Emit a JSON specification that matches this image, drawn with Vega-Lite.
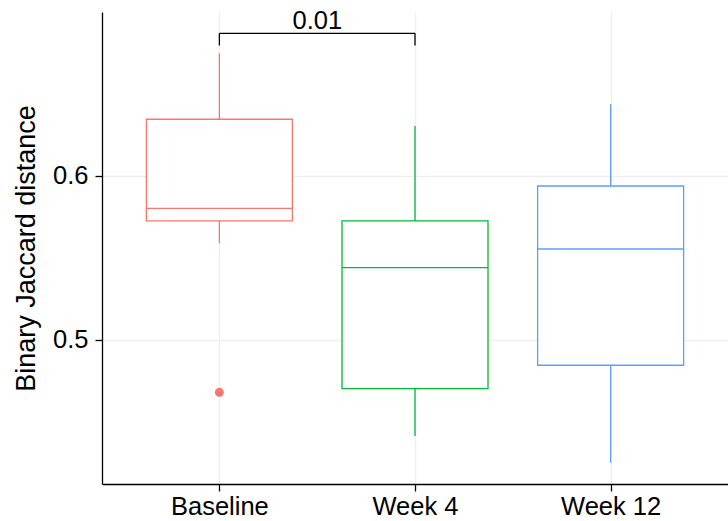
{
  "$schema": "https://vega.github.io/schema/vega-lite/v6.json",
  "width": 626,
  "height": 472,
  "autosize": {"type": "none"},
  "padding": {"left": 102, "top": 12, "right": 0, "bottom": 37},
  "background": "white",
  "config": {
    "view": {"stroke": null},
    "font": "Liberation Sans",
    "axis": {
      "labelFont": "Liberation Sans",
      "titleFont": "Liberation Sans",
      "labelColor": "black",
      "titleColor": "black",
      "domainColor": "black",
      "tickColor": "black",
      "domainWidth": 1.3,
      "tickWidth": 1.3,
      "tickSize": 7,
      "gridColor": "#EFEFEF",
      "gridWidth": 1.3,
      "titleFontWeight": "normal",
      "labelFontSize": 25.5,
      "titleFontSize": 27
    }
  },
  "datasets": {
    "boxes": [
      {"group": "Baseline", "lower": 0.5588, "q1": 0.5724, "median": 0.5801, "q3": 0.6344, "upper": 0.6746},
      {"group": "Week 4", "lower": 0.4413, "q1": 0.4701, "median": 0.5439, "q3": 0.5724, "upper": 0.6303},
      {"group": "Week 12", "lower": 0.425, "q1": 0.4844, "median": 0.5553, "q3": 0.5937, "upper": 0.6437}
    ],
    "outliers": [
      {"group": "Baseline", "value": 0.4679}
    ],
    "bracket": [
      {"from": "Baseline", "to": "Week 4", "y": 0.6868, "label": "0.01"}
    ],
    "bracketLegs": [
      {"group": "Baseline", "top": 0.6868, "bottom": 0.6794},
      {"group": "Week 4", "top": 0.6868, "bottom": 0.6794}
    ]
  },
  "layer": [
    {
      "data": {"name": "boxes"},
      "mark": {"type": "rule", "strokeWidth": 1.3, "opacity": 1},
      "encoding": {
        "x": {
          "field": "group", "type": "nominal",
          "scale": {"type": "point", "padding": 0.6, "domain": ["Baseline", "Week 4", "Week 12"]},
          "axis": {"title": null, "labelAngle": 0, "grid": true, "labelPadding": 3, "domain": true}
        },
        "y": {
          "field": "lower", "type": "quantitative",
          "scale": {"domain": [0.412, 0.6998], "nice": false, "zero": false},
          "axis": {"title": "Binary Jaccard distance", "values": [0.5, 0.6], "format": ".1f", "grid": true, "labelPadding": 7, "titlePadding": 12}
        },
        "y2": {"field": "upper"},
        "color": {
          "field": "group", "type": "nominal",
          "scale": {"domain": ["Baseline", "Week 4", "Week 12"], "range": ["#F8766D", "#00BA38", "#619CFF"]},
          "legend": null
        }
      }
    },
    {
      "data": {"name": "boxes"},
      "mark": {"type": "bar", "size": 146, "fill": "white", "strokeWidth": 1.3, "opacity": 1},
      "encoding": {
        "x": {"field": "group", "type": "nominal"},
        "y": {"field": "q1", "type": "quantitative"},
        "y2": {"field": "q3"},
        "stroke": {
          "field": "group", "type": "nominal",
          "scale": {"domain": ["Baseline", "Week 4", "Week 12"], "range": ["#F8766D", "#00BA38", "#619CFF"]},
          "legend": null
        }
      }
    },
    {
      "data": {"name": "boxes"},
      "mark": {"type": "tick", "size": 146, "thickness": 1.3, "opacity": 1},
      "encoding": {
        "x": {"field": "group", "type": "nominal"},
        "y": {"field": "median", "type": "quantitative"},
        "color": {"field": "group", "type": "nominal", "legend": null}
      }
    },
    {
      "data": {"name": "outliers"},
      "mark": {"type": "circle", "size": 80, "opacity": 1},
      "encoding": {
        "x": {"field": "group", "type": "nominal"},
        "y": {"field": "value", "type": "quantitative"},
        "color": {"field": "group", "type": "nominal", "legend": null}
      }
    },
    {
      "data": {"name": "bracket"},
      "mark": {"type": "rule", "color": "black", "strokeWidth": 1.3},
      "encoding": {
        "x": {"field": "from", "type": "nominal"},
        "x2": {"field": "to"},
        "y": {"field": "y", "type": "quantitative"}
      }
    },
    {
      "data": {"name": "bracketLegs"},
      "mark": {"type": "rule", "color": "black", "strokeWidth": 1.3},
      "encoding": {
        "x": {"field": "group", "type": "nominal"},
        "y": {"field": "top", "type": "quantitative"},
        "y2": {"field": "bottom"}
      }
    },
    {
      "data": {"name": "bracket"},
      "mark": {"type": "text", "fontSize": 25.5, "baseline": "alphabetic", "align": "center", "dx": 98, "dy": -4, "color": "black", "font": "Liberation Sans"},
      "encoding": {
        "x": {"field": "from", "type": "nominal"},
        "y": {"field": "y", "type": "quantitative"},
        "text": {"field": "label"}
      }
    }
  ]
}
